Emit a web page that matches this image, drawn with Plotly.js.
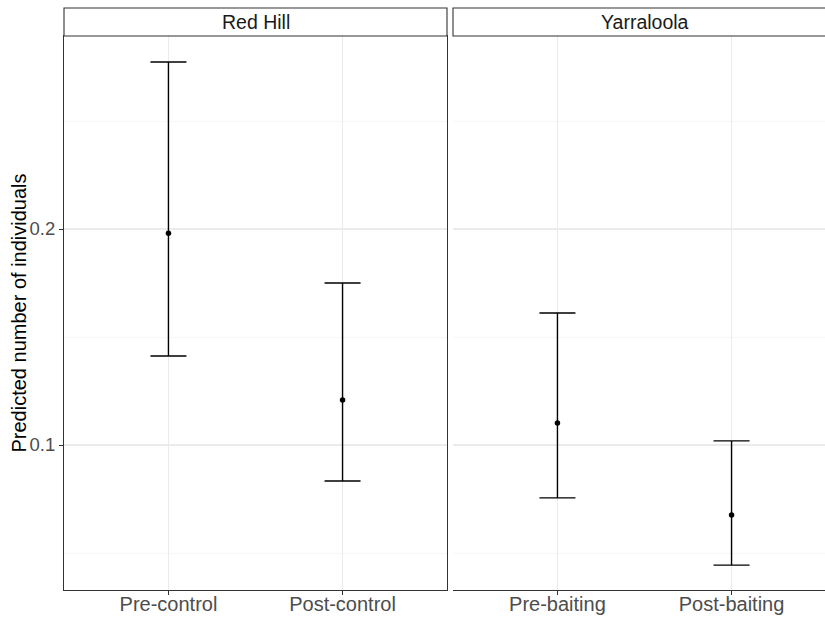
<!DOCTYPE html>
<html><head><meta charset="utf-8">
<script src="https://cdn.plot.ly/plotly-3.0.1.min.js"></script>
<style>html,body{margin:0;padding:0;overflow:hidden;background:#fff}</style>
</head><body><div id="chart" style="width:840px;height:617px"></div>
<script>
// Data
const sites = ["Red Hill", "Yarraloola"];
const redHillCats = ["Pre-control", "Post-control"];
const redHillFit = [0.198, 0.1208];
const redHillLower = [0.1412, 0.0833];
const redHillUpper = [0.2773, 0.175];
const yarraCats = ["Pre-baiting", "Post-baiting"];
const yarraFit = [0.1102, 0.0676];
const yarraLower = [0.0755, 0.0444];
const yarraUpper = [0.1611, 0.1019];
const yTickVals = [0.1, 0.2];
const yTickText = ["0.1", "0.2"];
const yTitle = "Predicted number of individuals";

const FONT = "Liberation Sans, Arial, sans-serif";

function trace(x, fit, lo, hi, xa) {
  return {
    type: "scatter", mode: "markers", x: x, y: fit, xaxis: xa, yaxis: "y",
    marker: {color: "#000", size: 5.5},
    error_y: {type: "data", symmetric: false,
      array: fit.map((v, i) => hi[i] - v),
      arrayminus: fit.map((v, i) => v - lo[i]),
      color: "#000", thickness: 1.4, width: 18},
    hoverinfo: "skip", showlegend: false
  };
}

const W = 840, ml = 64, mr = 4, pw = W - ml - mr;
const d1 = [0, 383 / pw], d2 = [389 / pw, 1];
const ph = 617 - 36 - 27;
const stripTop = 1 + 28 / ph;

const xCommon = {
  type: "category", range: [-0.6, 1.6], showline: true, mirror: true,
  linecolor: "#333333", linewidth: 1.1, ticks: "outside", ticklen: 4,
  tickcolor: "#333333", gridcolor: "#EBEBEB", gridwidth: 1.1, zeroline: false,
  ticklabelstandoff: -8,
  tickfont: {family: FONT, size: 20, color: "#4D4D4D"},
  fixedrange: true
};

const layout = {
  width: W, height: 617,
  margin: {l: ml, r: mr, t: 36, b: 27},
  paper_bgcolor: "#fff", plot_bgcolor: "#fff",
  showlegend: false,
  xaxis: Object.assign({}, xCommon, {domain: d1, anchor: "y"}),
  xaxis2: Object.assign({}, xCommon, {domain: d2, anchor: "y"}),
  yaxis: {
    range: [0.03287, 0.28935], tickvals: yTickVals, ticktext: yTickText,
    showline: true, mirror: true, linecolor: "#333333", linewidth: 1.1,
    ticks: "outside", ticklen: 4, tickcolor: "#333333",
    gridcolor: "#EBEBEB", gridwidth: 1.1, zeroline: false,
    minor: {tickvals: [0.05, 0.15, 0.25], showgrid: true, gridcolor: "#F2F2F2", gridwidth: 0.6, ticks: ""},
    tickfont: {family: FONT, size: 18.5, color: "#4D4D4D"},
    fixedrange: true
  },
  shapes: [
    {type: "rect", xref: "paper", yref: "paper", x0: d1[0], x1: d1[1], y0: 1, y1: stripTop,
     line: {color: "#333333", width: 1.1}, fillcolor: "#fff"},
    {type: "rect", xref: "paper", yref: "paper", x0: d2[0], x1: d2[1], y0: 1, y1: stripTop,
     line: {color: "#333333", width: 1.1}, fillcolor: "#fff"}
  ],
  annotations: [
    {text: sites[0], xref: "paper", yref: "paper", x: (d1[0] + d1[1]) / 2, y: (1 + stripTop) / 2,
     xanchor: "center", yanchor: "middle", showarrow: false,
     font: {family: FONT, size: 19.5, color: "#1A1A1A"}},
    {text: sites[1], xref: "paper", yref: "paper", x: (d2[0] + d2[1]) / 2, y: (1 + stripTop) / 2,
     xanchor: "center", yanchor: "middle", showarrow: false,
     font: {family: FONT, size: 19.5, color: "#1A1A1A"}},
    {text: yTitle, xref: "paper", yref: "paper", x: (18.5 - ml) / pw, y: 0.5, textangle: -90,
     xanchor: "center", yanchor: "middle", showarrow: false,
     font: {family: FONT, size: 20, color: "#000"}}
  ]
};

Plotly.newPlot("chart", [
  trace(redHillCats, redHillFit, redHillLower, redHillUpper, "x"),
  trace(yarraCats, yarraFit, yarraLower, yarraUpper, "x2")
], layout, {displayModeBar: false, staticPlot: true});
</script></body></html>
